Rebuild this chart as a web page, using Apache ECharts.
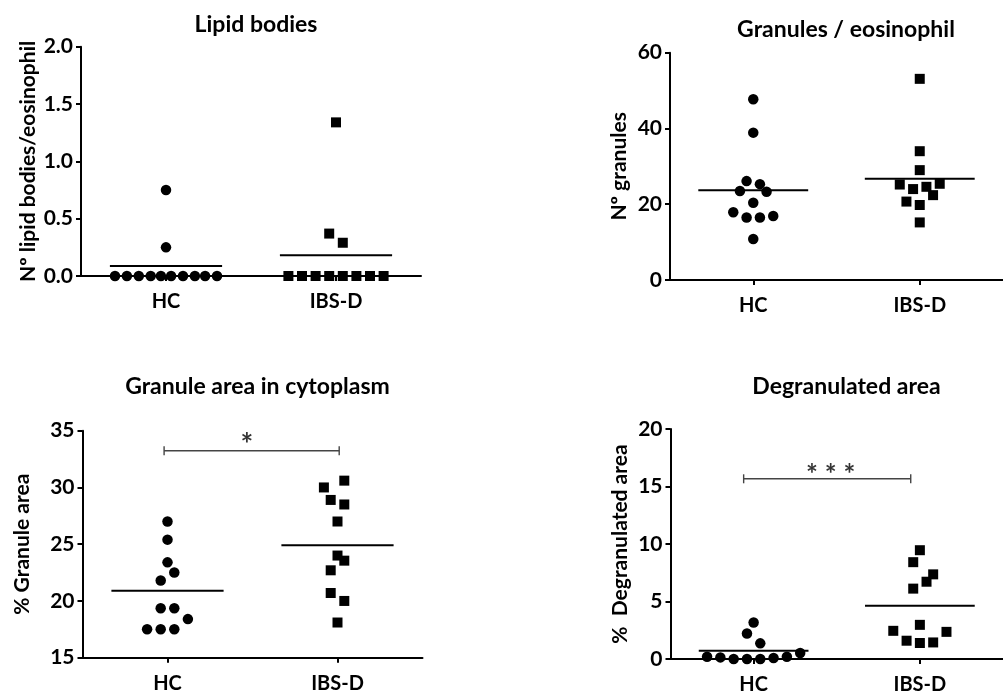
<!DOCTYPE html>
<html>
<head>
<meta charset="utf-8">
<script src="https://cdn.jsdelivr.net/npm/echarts@6/dist/echarts.min.js"></script>
<style>
html,body{margin:0;padding:0;background:#fff;}
#c{width:1003px;height:695px;}
</style>
</head>
<body>
<div id="c"></div>
<script>
// ---- data ----
const groups = ['HC', 'IBS-D'];
const titles = ['Lipid bodies', 'Granules / eosinophil', 'Granule area in cytoplasm', 'Degranulated area'];
const yNames = ['Nº lipid bodies/eosinophil', 'Nº granules', '% Granule area', '%  Degranulated area'];

// Panel 1: lipid bodies
const lipidHcX  = [1.00, 1.00, 0.70, 0.77, 0.84, 0.91, 0.97, 1.03, 1.10, 1.17, 1.23, 1.30];
const lipidHcY  = [0.75, 0.25, 0, 0, 0, 0, 0, 0, 0, 0, 0, 0];
const lipidIbsX = [2.00, 1.96, 2.04, 1.72, 1.80, 1.88, 1.96, 2.04, 2.12, 2.20, 2.28];
const lipidIbsY = [1.34, 0.37, 0.29, 0, 0, 0, 0, 0, 0, 0, 0];
const lipidMeans = [0.087, 0.18];

// Panel 2: granules / eosinophil
const granHcX  = [1.00, 1.00, 0.96, 1.04, 0.92, 1.08, 1.00, 0.88, 0.96, 1.04, 1.12, 1.00];
const granHcY  = [47.7, 38.9, 26.1, 25.3, 23.5, 23.3, 20.4, 17.9, 16.5, 16.5, 16.9, 10.8];
const granIbsX = [2.00, 2.00, 2.00, 1.88, 2.12, 1.96, 2.04, 2.08, 1.92, 2.00, 2.00];
const granIbsY = [53.1, 34.0, 29.0, 25.2, 25.4, 24.0, 24.6, 22.4, 20.7, 19.8, 15.2];
const granMeans = [23.7, 26.7];

// Panel 3: granule area in cytoplasm
const areaHcX  = [1.00, 1.00, 1.00, 1.04, 0.96, 0.96, 1.04, 1.12, 0.88, 0.96, 1.04];
const areaHcY  = [27.0, 25.4, 23.4, 22.5, 21.8, 19.35, 19.35, 18.4, 17.5, 17.5, 17.5];
const areaIbsX = [2.04, 1.92, 1.96, 2.04, 2.00, 2.00, 2.04, 1.96, 1.96, 2.04, 2.00];
const areaIbsY = [30.6, 30.0, 28.9, 28.5, 27.0, 24.0, 23.55, 22.7, 20.7, 20.0, 18.1];
const areaMeans = [20.9, 24.9];
const areaBracketX = [0.98, 2.01];
const areaBracketY = 33.24;
const areaSigX = 1.467;
const areaSig = '*';

// Panel 4: degranulated area
const degHcX  = [1.00, 0.96, 1.04, 0.72, 0.80, 0.88, 0.96, 1.04, 1.12, 1.20, 1.28];
const degHcY  = [3.18, 2.22, 1.36, 0.2, 0.14, 0, 0, 0, 0.09, 0.2, 0.52];
const degIbsX = [2.00, 1.96, 2.08, 2.04, 1.96, 2.00, 1.84, 2.16, 1.92, 2.00, 2.08];
const degIbsY = [9.46, 8.42, 7.36, 6.72, 6.12, 2.97, 2.45, 2.36, 1.59, 1.39, 1.44];
const degMeans = [0.72, 4.62];
const degBracketX = [0.94, 1.945];
const degBracketY = 15.67;
const degSigX = 1.464;
const degSig = '* * *';

// y-axis ranges
const yMins = [0, 0, 15, 0];
const yMaxs = [2, 60, 35, 20];
const yIntervals = [0.5, 20, 5, 5];
const yDecimals = [1, 0, 0, 0];

// ---- chart ----
const FONT = 'Lato';
const grids = [
  {left: 81,  top: 46.7, width: 340, height: 229.3},
  {left: 670, top: 52.7, width: 342, height: 227.3},
  {left: 82.5, top: 430.7, width: 340, height: 227},
  {left: 670.5, top: 429, width: 342, height: 231}
];
const titleTops = [8, 13, 370, 370];
const nameGaps = [42, 40, 50, 40];

const xAxes = grids.map((g, i) => ({
  gridIndex: i, type: 'value', min: 0.5, max: 2.5,
  splitLine: {show: false},
  axisLine: {show: true, lineStyle: {color: '#000', width: 2}},
  axisTick: {show: true, customValues: [1, 2], length: 5, lineStyle: {color: '#000', width: 2}},
  axisLabel: {show: true, customValues: [1, 2], margin: 16, color: '#000',
    fontFamily: FONT, fontWeight: 'bold', fontSize: 20,
    formatter: v => (Math.abs(v - 1) < 1e-6 ? groups[0] : (Math.abs(v - 2) < 1e-6 ? groups[1] : ''))}
}));

const yAxes = grids.map((g, i) => ({
  gridIndex: i, type: 'value', min: yMins[i], max: yMaxs[i], interval: yIntervals[i],
  splitLine: {show: false},
  axisLine: {show: true, lineStyle: {color: '#000', width: 2}},
  axisTick: {show: true, length: 5, lineStyle: {color: '#000', width: 2}},
  axisLabel: {margin: 8, color: '#000', fontFamily: FONT, fontWeight: 'bold', fontSize: 21,
    formatter: v => v.toFixed(yDecimals[i])},
  name: yNames[i], nameLocation: 'middle', nameRotate: 90, nameGap: nameGaps[i],
  nameTextStyle: {color: '#000', fontFamily: FONT, fontWeight: 'bold', fontSize: 21}
}));

const titleArr = grids.map((g, i) => ({
  text: titles[i], left: g.left + g.width / 2, top: titleTops[i], textAlign: 'center',
  textStyle: {fontFamily: FONT, fontWeight: 'bold', fontSize: 23, color: '#000'}
}));

const zip = (xs, ys) => xs.map((x, k) => [x, ys[k]]);
const HALF = 0.33;
const series = [];
function addPanel(i, hcX, hcY, ibsX, ibsY, means) {
  series.push({type: 'line', xAxisIndex: i, yAxisIndex: i, data: [[1 - HALF, means[0]], [1 + HALF, means[0]]],
    symbol: 'none', lineStyle: {color: '#000', width: 2}, z: 3, silent: true});
  series.push({type: 'line', xAxisIndex: i, yAxisIndex: i, data: [[2 - HALF, means[1]], [2 + HALF, means[1]]],
    symbol: 'none', lineStyle: {color: '#000', width: 2}, z: 3, silent: true});
  series.push({type: 'scatter', xAxisIndex: i, yAxisIndex: i, data: zip(hcX, hcY), symbol: 'circle',
    symbolSize: 10.5, itemStyle: {color: '#000', opacity: 1}, clip: false, z: 4});
  series.push({type: 'scatter', xAxisIndex: i, yAxisIndex: i, data: zip(ibsX, ibsY), symbol: 'rect',
    symbolSize: 10, itemStyle: {color: '#000', opacity: 1}, clip: false, z: 4});
}
function addBracket(i, bx, by, sx, sig, fs) {
  series.push({type: 'line', xAxisIndex: i, yAxisIndex: i, data: [[bx[0], by], [bx[1], by]],
    symbol: 'rect', symbolSize: [1.4, 9], showSymbol: true,
    itemStyle: {color: '#444', opacity: 1}, lineStyle: {color: '#444', width: 1.4}, z: 3, silent: true,
    label: {show: false}});
  series.push({type: 'scatter', xAxisIndex: i, yAxisIndex: i, data: [[sx, by]],
    symbolSize: 0, silent: true, z: 5,
    label: {show: true, position: 'top', distance: 0, offset: [0, 10], formatter: sig, color: '#000',
      fontFamily: FONT, fontWeight: 'bold', fontSize: fs}});
}
addPanel(0, lipidHcX, lipidHcY, lipidIbsX, lipidIbsY, lipidMeans);
addPanel(1, granHcX, granHcY, granIbsX, granIbsY, granMeans);
addPanel(2, areaHcX, areaHcY, areaIbsX, areaIbsY, areaMeans);
addPanel(3, degHcX, degHcY, degIbsX, degIbsY, degMeans);
addBracket(2, areaBracketX, areaBracketY, areaSigX, areaSig, 30);
addBracket(3, degBracketX, degBracketY, degSigX, degSig, 28);

const chart = echarts.init(document.getElementById('c'), null, {renderer: 'canvas'});
chart.setOption({
  animation: false,
  backgroundColor: '#fff',
  title: titleArr,
  grid: grids.map(g => Object.assign({containLabel: false}, g)),
  xAxis: xAxes,
  yAxis: yAxes,
  series: series
});
</script>
</body>
</html>
